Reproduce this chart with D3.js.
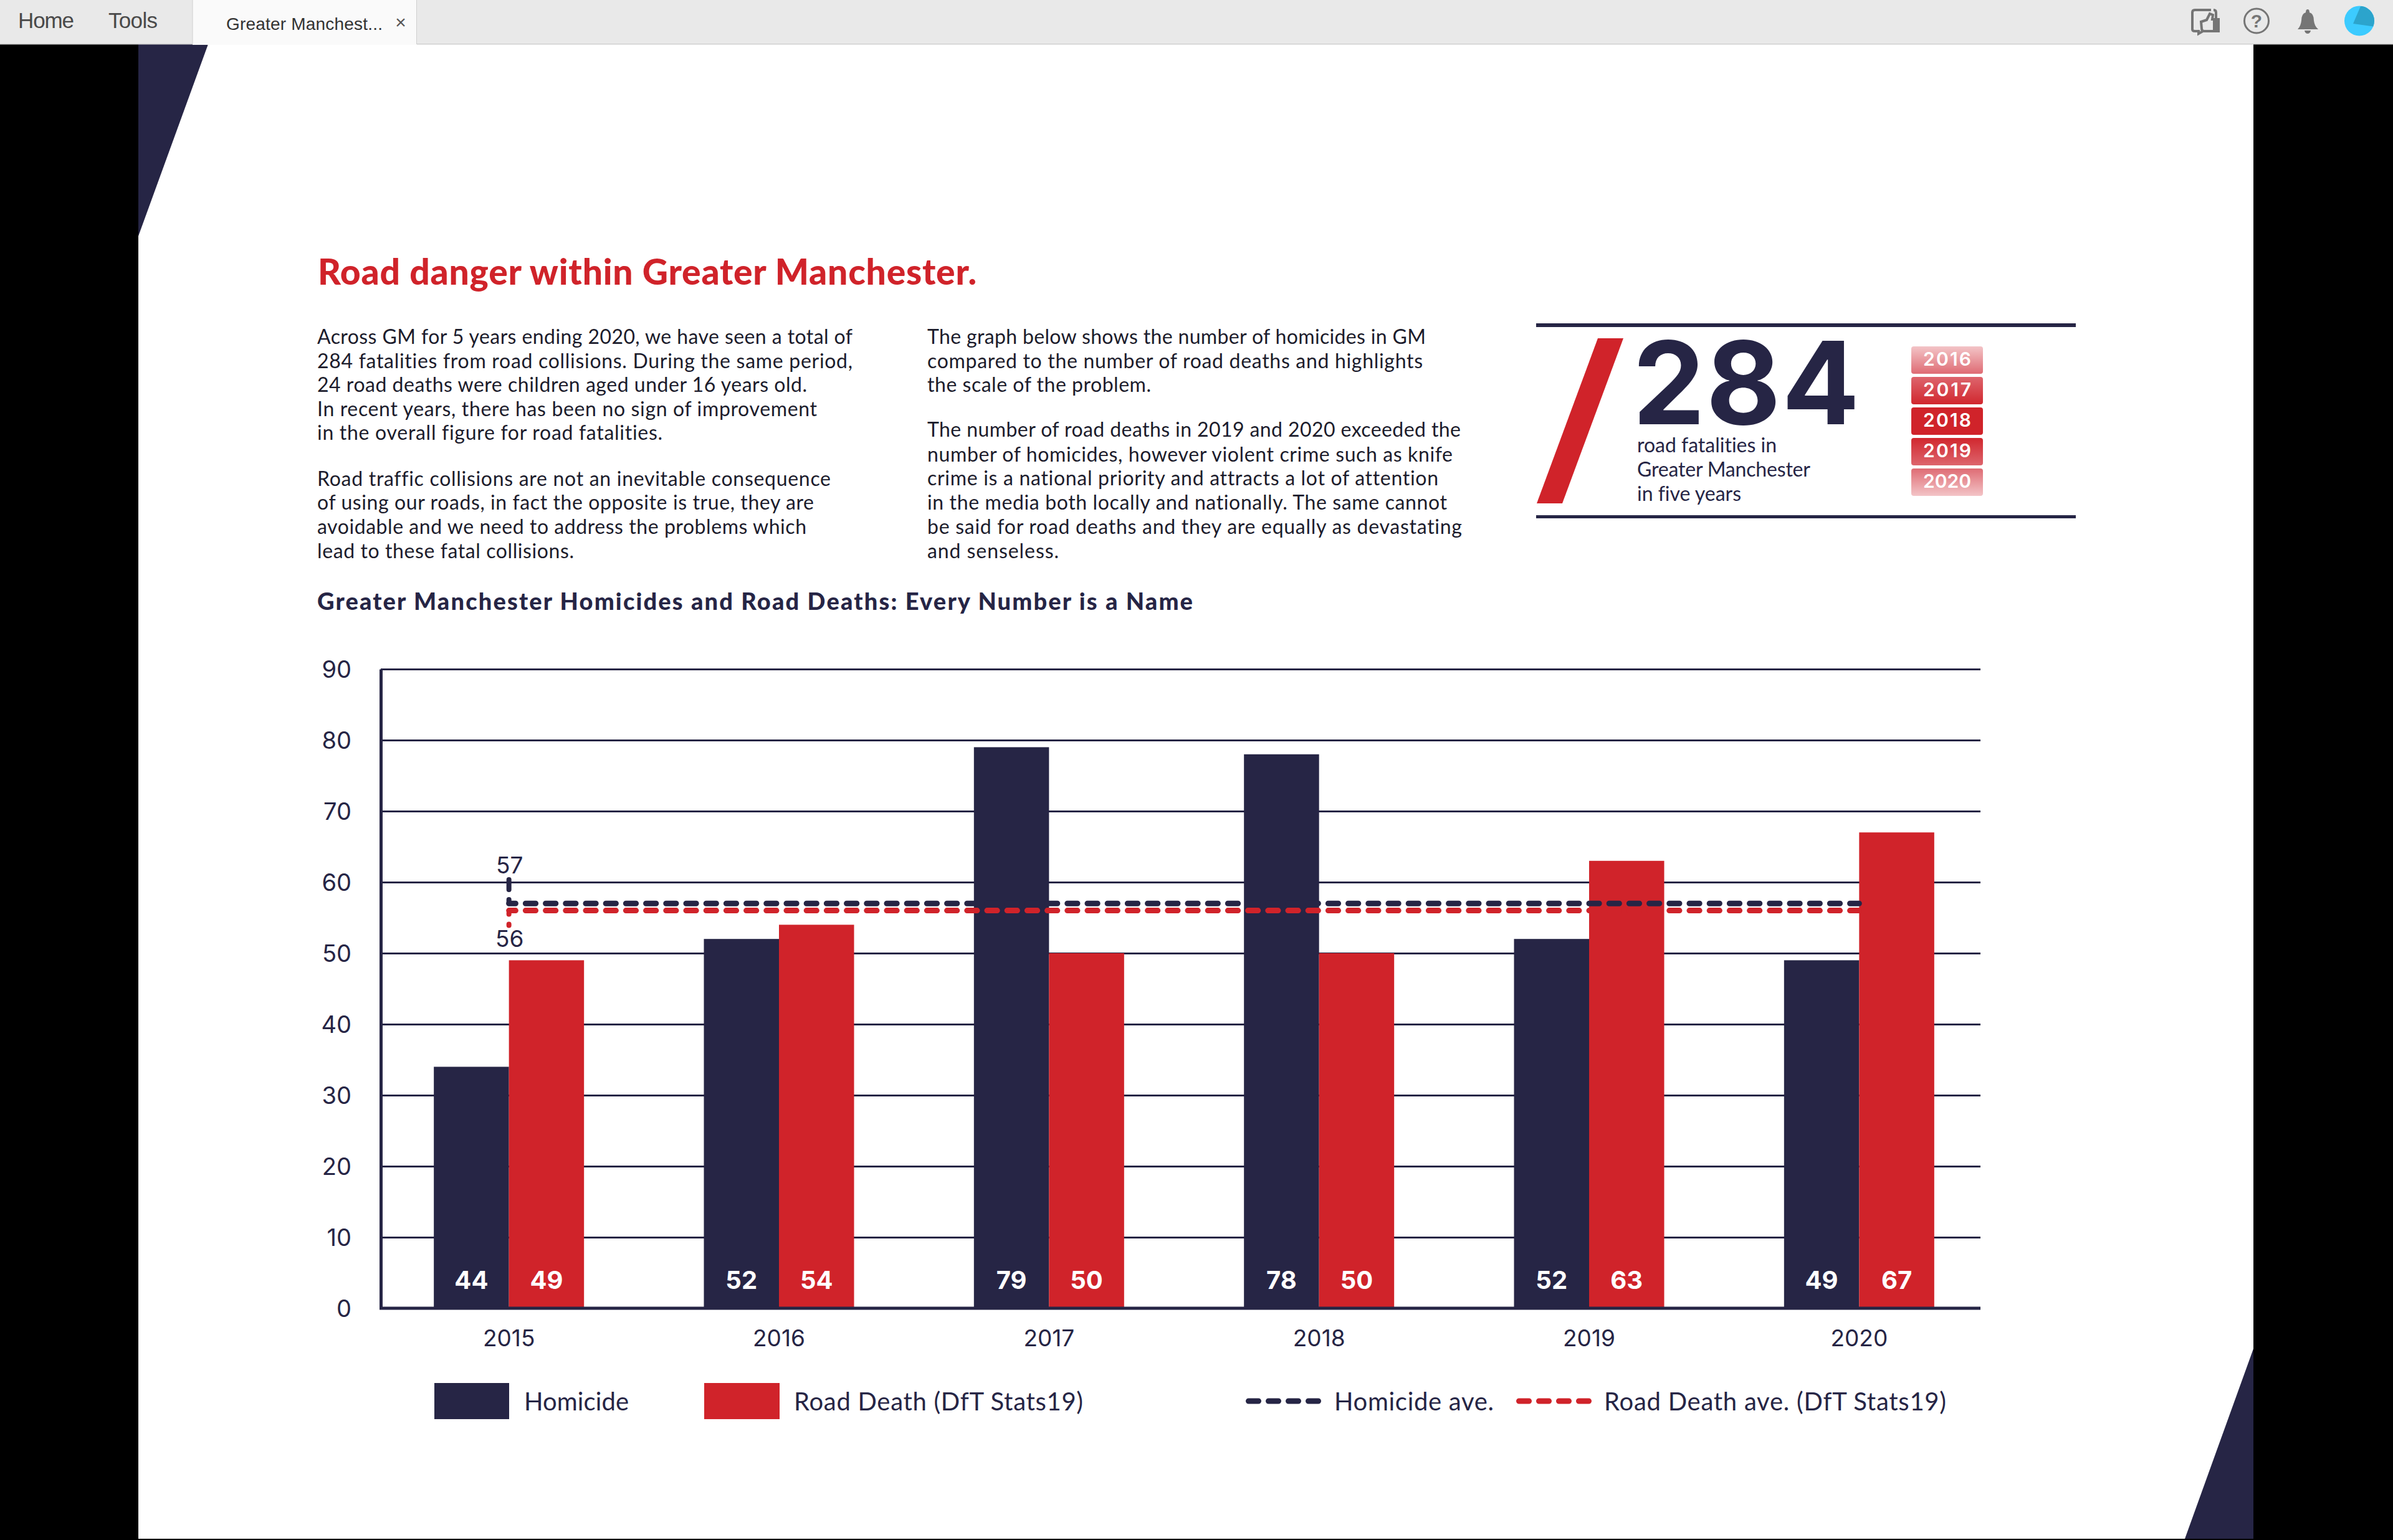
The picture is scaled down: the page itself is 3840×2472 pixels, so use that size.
<!DOCTYPE html>
<html>
<head>
<meta charset="utf-8">
<title>Road danger within Greater Manchester</title>
<script src="https://cdnjs.cloudflare.com/ajax/libs/d3/7.8.5/d3.min.js"></script>
<style>
  html, body { margin: 0; padding: 0; background: #000; }
  svg { display: block; }
  text { font-family: Lato, "Open Sans", sans-serif; font-variant-ligatures: none; }
</style>
</head>
<body>
<div id="chart"></div>
<script>
// Chart data
const years = ['2015', '2016', '2017', '2018', '2019', '2020'];
const homicide = [34, 52, 79, 78, 52, 49];
const roadDeath = [49, 54, 50, 50, 63, 67];
// The first homicide label says 44 in the original although its bar stands at 34
const homicideLabels = ['44', '52', '79', '78', '52', '49'];
const roadDeathLabels = ['49', '54', '50', '50', '63', '67'];
const seriesNames = ['Homicide', 'Road Death (DfT Stats19)'];
const homicideAve = 57;
const roadDeathAve = 56;
const homicideLeaderTop = 60.7;
const roadDeathLeaderBottom = 53.5;
const yTicks = [0, 10, 20, 30, 40, 50, 60, 70, 80, 90];
const pillYears = ['2016', '2017', '2018', '2019', '2020'];

const navy = '#262545';
const red = '#d0232a';
const ink = '#1c1c2c';
const numFont = 'Inter, Lato, sans-serif';

const svg = d3.select('#chart')
  .append('svg')
  .attr('width', 3840)
  .attr('height', 2472);

// Adds one line of text, fitted to the given width when there is one
function put(str, x, y, opts) {
  const o = opts || {};
  const t = svg.append('text')
    .attr('x', x)
    .attr('y', y)
    .attr('font-size', o.size || 32)
    .attr('font-weight', o.weight || 400)
    .attr('fill', o.fill || ink)
    .attr('text-anchor', o.anchor || 'start')
    .text(str);
  if (o.family) t.style('font-family', o.family);
  if (o.width) t.attr('textLength', o.width).attr('lengthAdjust', 'spacing');
  return t;
}

// Page and browser frame
svg.append('rect').attr('width', 3840).attr('height', 2472).attr('fill', '#000');
svg.append('rect').attr('x', 222).attr('y', 71).attr('width', 3394).attr('height', 2399).attr('fill', '#fff');
svg.append('polygon').attr('points', '222,71 334,71 222,379').attr('fill', navy);
svg.append('polygon').attr('points', '3616,2165 3616,2470 3506,2470').attr('fill', navy);

svg.append('rect').attr('width', 3840).attr('height', 71).attr('fill', '#e9e9e9');
svg.append('rect').attr('y', 70).attr('width', 3840).attr('height', 1.5).attr('fill', '#cfcfcf');
svg.append('rect').attr('x', 309).attr('width', 360).attr('height', 72).attr('fill', '#fafafa');
svg.append('rect').attr('x', 308.5).attr('width', 1).attr('height', 71).attr('fill', '#cfcfcf');
svg.append('rect').attr('x', 668).attr('width', 1).attr('height', 71).attr('fill', '#cfcfcf');

const uiFont = '"Liberation Sans", Arial, sans-serif';
put('Home', 29, 45, { size: 35, fill: '#4a4a4a', family: uiFont, width: 90 });
put('Tools', 174, 45, { size: 35, fill: '#4a4a4a', family: uiFont, width: 79 });
put('Greater Manchest...', 363, 48, { size: 28, fill: '#333', family: uiFont, width: 251 });
put('×', 643, 46, { size: 30, fill: '#555', family: uiFont, anchor: 'middle' });

// Toolbar icons
const icons = svg.append('g');
icons.append('path')
  .attr('d', 'M3548,16 H3522 Q3518,16 3518,20 V47 Q3518,50 3522,50 H3528 V54 L3535,50')
  .attr('fill', 'none').attr('stroke', '#757575').attr('stroke-width', 4);
icons.append('path')
  .attr('d', 'M3552,16 Q3556,16 3556,20 V30')
  .attr('fill', 'none').attr('stroke', '#757575').attr('stroke-width', 4);
icons.append('path')
  .attr('d', 'M3532,35 L3541,32 L3546,22 L3551,24 L3550,31 H3560 V50 H3537 Q3533,50 3533,46 Z')
  .attr('fill', '#e9e9e9').attr('stroke', '#757575').attr('stroke-width', 4);
icons.append('rect').attr('x', 3551).attr('y', 33).attr('width', 8).attr('height', 16).attr('fill', '#757575');
icons.append('circle').attr('cx', 3621).attr('cy', 33.5).attr('r', 19.5)
  .attr('fill', 'none').attr('stroke', '#757575').attr('stroke-width', 3);
put('?', 3621, 44, { size: 30, weight: 700, fill: '#757575', anchor: 'middle', family: uiFont });
icons.append('path')
  .attr('d', 'M3687,47 Q3692,42 3693,33 Q3693,22 3700,20 Q3700,15 3703,15 Q3706,15 3706,20 Q3713,22 3713,33 Q3714,42 3720,47 Z')
  .attr('fill', '#757575');
icons.append('path').attr('d', 'M3698,49 H3708 Q3707,54 3703,54 Q3699,54 3698,49 Z').attr('fill', '#757575');
svg.append('clipPath').attr('id', 'avatar')
  .append('circle').attr('cx', 3786).attr('cy', 33.5).attr('r', 24);
icons.append('circle').attr('cx', 3786).attr('cy', 33.5).attr('r', 24).attr('fill', '#3ccbff');
icons.append('polygon').attr('points', '3788,10 3812,10 3812,43 3776,38')
  .attr('fill', '#2ca4cc').attr('clip-path', 'url(#avatar)');

// Heading and body copy
put('Road danger within Greater Manchester.', 510, 457, { size: 57, weight: 900, fill: red, width: 1057 });

const leftLines = [
  ['Across GM for 5 years ending 2020, we have seen a total of', 552, 859],
  ['284 fatalities from road collisions. During the same period,', 591, 859],
  ['24 road deaths were children aged under 16 years old.', 629, 786],
  ['In recent years, there has been no sign of improvement', 668, 802],
  ['in the overall figure for road fatalities.', 706, 554],
  ['Road traffic collisions are not an inevitable consequence', 780, 824],
  ['of using our roads, in fact the opposite is true, they are', 818, 797],
  ['avoidable and we need to address the problems which', 857, 785],
  ['lead to these fatal collisions.', 896, 412]
];
leftLines.forEach(d => put(d[0], 509, d[1], { width: d[2] }));

const rightLines = [
  ['The graph below shows the number of homicides in GM', 552, 800],
  ['compared to the number of road deaths and highlights', 591, 795],
  ['the scale of the problem.', 629, 359],
  ['The number of road deaths in 2019 and 2020 exceeded the', 701, 856],
  ['number of homicides, however violent crime such as knife', 741, 843],
  ['crime is a national priority and attracts a lot of attention', 779, 820],
  ['in the media both locally and nationally. The same cannot', 818, 834],
  ['be said for road deaths and they are equally as devastating', 857, 858],
  ['and senseless.', 896, 211]
];
rightLines.forEach(d => put(d[0], 1488, d[1], { width: d[2] }));

put('Greater Manchester Homicides and Road Deaths: Every Number is a Name', 509, 979,
  { size: 38, weight: 900, fill: navy, width: 1405 });

// 284 panel
svg.append('rect').attr('x', 2465).attr('y', 519).attr('width', 866).attr('height', 6).attr('fill', navy);
svg.append('rect').attr('x', 2465).attr('y', 827).attr('width', 866).attr('height', 5).attr('fill', navy);
svg.append('polygon').attr('points', '2564,543 2605,543 2507,808 2466,808').attr('fill', red);
put('284', 2620, 681, { size: 184, weight: 700, fill: navy, width: 364, family: numFont });
put('road fatalities in', 2627, 726, { fill: navy, width: 224 });
put('Greater Manchester', 2627, 765, { fill: navy, width: 278 });
put('in five years', 2627, 804, { fill: navy, width: 167 });

const grad = svg.append('defs').append('linearGradient')
  .attr('id', 'pillFade')
  .attr('gradientUnits', 'userSpaceOnUse')
  .attr('x1', 0).attr('x2', 0).attr('y1', 556).attr('y2', 796);
[[0, '#f3c4c7'], [0.18, '#df6d75'], [0.4, red], [0.6, red], [0.82, '#df6d75'], [1, '#f3c4c7']]
  .forEach(s => grad.append('stop').attr('offset', s[0]).attr('stop-color', s[1]));

const pillY = d3.scaleBand().domain(pillYears).range([556, 801]).paddingInner(0);
svg.selectAll('.pill')
  .data(pillYears)
  .enter()
  .append('rect')
  .attr('class', 'pill')
  .attr('x', 3067)
  .attr('y', d => pillY(d))
  .attr('width', 115)
  .attr('height', 44)
  .attr('rx', 4)
  .attr('fill', 'url(#pillFade)');
pillYears.forEach(d => put(d, 3124.5, pillY(d) + 31, { size: 30, weight: 600, fill: '#fff', anchor: 'middle', width: 77, family: numFont }));

// Scales
const x = d3.scaleBand().domain(years).range([600, 3200]);
const xSub = d3.scaleBand()
  .domain(seriesNames)
  .range([x.bandwidth() / 2 - 120.5, x.bandwidth() / 2 + 120.5]);
const y = d3.scaleLinear().domain([0, 90]).range([2100, 1074]);
const xMid = d => x(d) + x.bandwidth() / 2;

// Y axis, its ticks doubling as the gridlines
const plot = svg.append('g');
const yAxis = plot.append('g')
  .attr('transform', 'translate(611,0)')
  .call(d3.axisLeft(y).tickValues(yTicks).tickSize(-2567).tickSizeOuter(0).tickPadding(47));
yAxis.select('.domain').attr('stroke', navy).attr('stroke-width', 5);
yAxis.selectAll('.tick line').attr('stroke', navy).attr('stroke-width', 3);
yAxis.selectAll('.tick text')
  .attr('fill', navy)
  .attr('font-size', 38)
  .attr('dy', '0.36em')
  .style('font-family', numFont);

// Bars
const bars = plot.append('g');
[homicide, roadDeath].forEach((values, i) => {
  bars.selectAll(`.bar${i}`)
    .data(values)
    .enter()
    .append('rect')
    .attr('class', `bar${i}`)
    .attr('x', (d, j) => x(years[j]) + xSub(seriesNames[i]))
    .attr('y', d => y(d))
    .attr('width', xSub.bandwidth())
    .attr('height', d => y(0) - y(d))
    .attr('fill', i === 0 ? navy : red);
});

// Baseline and X axis labels
plot.append('line')
  .attr('x1', 609).attr('x2', 3178)
  .attr('y1', y(0)).attr('y2', y(0))
  .attr('stroke', navy).attr('stroke-width', 5);
const xAxis = plot.append('g')
  .attr('transform', `translate(0,${y(0)})`)
  .call(d3.axisBottom(x).tickSize(0).tickPadding(35));
xAxis.select('.domain').remove();
xAxis.selectAll('.tick text')
  .attr('fill', navy)
  .attr('font-size', 37)
  .style('font-family', numFont);

// Value labels inside the bars
[homicideLabels, roadDeathLabels].forEach((labels, i) => {
  labels.forEach((d, j) => {
    const cx = x(years[j]) + xSub(seriesNames[i]) + xSub.bandwidth() / 2;
    put(d, cx, 2069, { size: 40, weight: 700, fill: '#fff', anchor: 'middle', family: numFont });
  });
});

// Average lines with their short leaders
function aveLine(val, colour) {
  plot.append('line')
    .attr('x1', xMid(years[0])).attr('x2', xMid(years[5]))
    .attr('y1', y(val)).attr('y2', y(val))
    .attr('stroke', colour)
    .attr('stroke-width', 9)
    .attr('stroke-linecap', 'round')
    .attr('stroke-dasharray', '16.2 16')
    .attr('stroke-dashoffset', 5.5);
}
aveLine(homicideAve, navy);
aveLine(roadDeathAve, red);

plot.append('line')
  .attr('x1', xMid(years[0])).attr('x2', xMid(years[0]))
  .attr('y1', y(homicideLeaderTop) + 4).attr('y2', y(homicideAve))
  .attr('stroke', navy).attr('stroke-width', 8)
  .attr('stroke-linecap', 'round').attr('stroke-dasharray', '16 16');
plot.append('line')
  .attr('x1', xMid(years[0])).attr('x2', xMid(years[0]))
  .attr('y1', y(roadDeathAve) + 4).attr('y2', y(roadDeathLeaderBottom) - 4)
  .attr('stroke', red).attr('stroke-width', 8)
  .attr('stroke-linecap', 'round').attr('stroke-dasharray', '2 16');

put(String(homicideAve), xMid(years[0]) + 1, 1402, { size: 37, fill: navy, anchor: 'middle', family: numFont });
put(String(roadDeathAve), xMid(years[0]) + 1, 1520, { size: 37, fill: navy, anchor: 'middle', family: numFont });

// Legend
svg.append('rect').attr('x', 697).attr('y', 2220).attr('width', 120).attr('height', 58).attr('fill', navy);
svg.append('rect').attr('x', 1130).attr('y', 2220).attr('width', 121).attr('height', 58).attr('fill', red);
put(seriesNames[0], 841, 2264, { size: 40, fill: navy, width: 168 });
put(seriesNames[1], 1274, 2264, { size: 40, fill: navy, width: 464 });

function legendDash(x0, colour) {
  svg.append('line')
    .attr('x1', x0 + 4.5).attr('x2', x0 + 120)
    .attr('y1', 2249).attr('y2', 2249)
    .attr('stroke', colour)
    .attr('stroke-width', 9)
    .attr('stroke-linecap', 'round')
    .attr('stroke-dasharray', '16 16');
}
legendDash(1999, navy);
legendDash(2433, red);
put('Homicide ave.', 2141, 2264, { size: 40, fill: navy, width: 256 });
put('Road Death ave. (DfT Stats19)', 2574, 2264, { size: 40, fill: navy, width: 549 });
</script>
</body>
</html>
